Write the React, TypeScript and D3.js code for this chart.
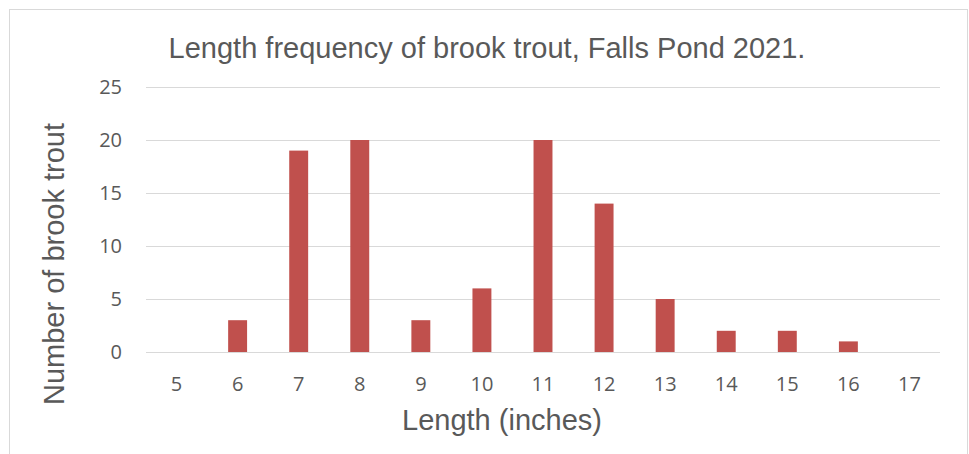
import { useEffect, useRef } from 'react'
import * as d3 from 'd3'

const lengths = ['5', '6', '7', '8', '9', '10', '11', '12', '13', '14', '15', '16', '17']
const counts = [0, 3, 19, 20, 3, 6, 20, 14, 5, 2, 2, 1, 0]
const yTicks = [0, 5, 10, 15, 20, 25]

const W = 969
const H = 454

export default function App() {
  const svgRef = useRef<SVGSVGElement>(null)

  useEffect(() => {
    if (!svgRef.current) return
    const svg = d3.select(svgRef.current)
    svg.selectAll('*').remove()

    const left = 146
    const right = 940
    const top = 87
    const bottom = 352

    // chart border
    svg.append('rect')
      .attr('x', 9.5).attr('y', 9.5)
      .attr('width', 958).attr('height', 460)
      .attr('fill', '#fff')
      .attr('stroke', '#d9d9d9')

    const x = d3.scaleBand<string>()
      .domain(lengths)
      .range([left, right])
      .paddingInner(0.69)
      .paddingOuter(0.345)

    const y = d3.scaleLinear().domain([0, 25]).range([bottom, top])

    // gridlines
    svg.append('g')
      .selectAll('line')
      .data(yTicks)
      .enter()
      .append('line')
      .attr('x1', left).attr('x2', right)
      .attr('y1', (d: number) => Math.round(y(d)) + 0.5)
      .attr('y2', (d: number) => Math.round(y(d)) + 0.5)
      .attr('stroke', '#d9d9d9')
      .attr('stroke-width', 1)

    // bars
    svg.append('g')
      .selectAll('rect')
      .data(counts)
      .enter()
      .append('rect')
      .attr('x', (_d: number, i: number) => x(lengths[i]) as number)
      .attr('width', x.bandwidth())
      .attr('y', (d: number) => y(d))
      .attr('height', (d: number) => bottom - y(d))
      .attr('fill', '#c0504d')

    // y tick labels
    svg.append('g')
      .selectAll('text')
      .data(yTicks)
      .enter()
      .append('text')
      .attr('x', 122)
      .attr('y', (d: number) => y(d))
      .attr('dy', '0.35em')
      .attr('text-anchor', 'end')
      .attr('fill', '#595959')
      .style('font-family', '"Open Sans", sans-serif')
      .style('font-size', '20px')
      .text((d: number) => d)

    // x tick labels
    svg.append('g')
      .selectAll('text')
      .data(lengths)
      .enter()
      .append('text')
      .attr('x', (d: string) => (x(d) as number) + x.bandwidth() / 2)
      .attr('y', 384)
      .attr('dy', '0.35em')
      .attr('text-anchor', 'middle')
      .attr('fill', '#595959')
      .style('font-family', '"Open Sans", sans-serif')
      .style('font-size', '20px')
      .text((d: string) => d)

    // title
    svg.append('text')
      .attr('x', 487)
      .attr('y', 58)
      .attr('text-anchor', 'middle')
      .attr('fill', '#595959')
      .style('font-family', '"Liberation Sans", Arial, sans-serif')
      .style('font-size', '29px')
      .text('Length frequency of brook trout, Falls Pond 2021.')

    // x axis title
    svg.append('text')
      .attr('x', 502)
      .attr('y', 430)
      .attr('text-anchor', 'middle')
      .attr('fill', '#595959')
      .style('font-family', '"Liberation Sans", Arial, sans-serif')
      .style('font-size', '29px')
      .text('Length (inches)')

    // y axis title
    svg.append('text')
      .attr('transform', 'translate(64,264) rotate(-90)')
      .attr('text-anchor', 'middle')
      .attr('fill', '#595959')
      .style('font-family', '"Liberation Sans", Arial, sans-serif')
      .style('font-size', '29px')
      .text('Number of brook trout')
  }, [])

  return (
    <div style={{ position: 'fixed', left: 0, top: 0 }}>
      <svg ref={svgRef} width={W} height={H} style={{ display: 'block' }} />
    </div>
  )
}
